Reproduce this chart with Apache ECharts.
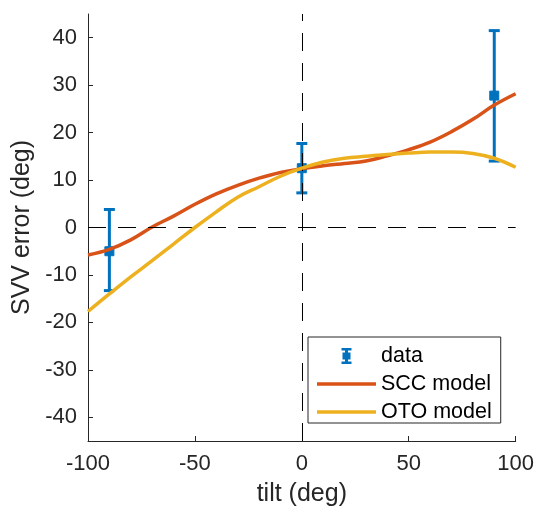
<!DOCTYPE html>
<html>
<head>
<meta charset="utf-8">
<script src="https://cdn.jsdelivr.net/npm/echarts@6/dist/echarts.min.js"></script>
<style>
  html, body { margin: 0; padding: 0; background: #fff; }
  #chart { width: 537px; height: 512px; }
</style>
</head>
<body>
<div id="chart"></div>
<script>
// Measured SVV error (mean with lower / upper error bounds) at each tilt
const tiltData = [-90, 0, 90];
const errMean = [-5.0, 12.5, 27.8];
const errLow = [-13.3, 7.3, 14.0];
const errHigh = [3.8, 17.7, 41.5];

// Model predictions sampled every 10 deg of tilt
const modelTilt = [-100, -90, -80, -70, -60, -50, -40, -30, -20, -10, 0,
                   10, 20, 30, 40, 50, 60, 70, 80, 90, 100];
const sccModel = [-5.8, -4.6, -2.6, 0.1, 2.4, 4.9, 7.1, 8.9, 10.4, 11.6, 12.4,
                  13.0, 13.5, 14.0, 15.1, 16.4, 18.0, 20.2, 22.8, 25.8, 28.2];
const otoModel = [-17.7, -14.0, -10.4, -7.0, -3.5, 0.0, 3.3, 6.4, 8.6, 10.8, 12.5,
                  13.8, 14.6, 15.0, 15.4, 15.7, 15.9, 15.9, 15.6, 14.6, 12.7];

// Axis ticks
const xTicks = [-100, -50, 0, 50, 100];
const yTicks = [-40, -30, -20, -10, 0, 10, 20, 30, 40];

const FONT = 'Liberation Sans, Arial, Helvetica, sans-serif';
const AXIS_COLOR = '#262626';
const BLUE = '#0072BD', ORANGE = '#D95319', YELLOW = '#EDB120';

const chart = echarts.init(document.getElementById('chart'), null, { renderer: 'canvas' });

const barData = tiltData.map((t, i) => [t, errMean[i], errLow[i], errHigh[i]]);

function renderErrorBar(params, api) {
  const x = api.value(0);
  const pMean = api.coord([x, api.value(1)]);
  const pLow = api.coord([x, api.value(2)]);
  const pHigh = api.coord([x, api.value(3)]);
  const capHalf = 5.5;
  const mk = 4.5;
  const style = { stroke: BLUE, lineWidth: 3, fill: null };
  return {
    type: 'group',
    children: [
      { type: 'line', shape: { x1: pLow[0], y1: pLow[1], x2: pHigh[0], y2: pHigh[1] }, style },
      { type: 'line', shape: { x1: pLow[0] - capHalf, y1: pLow[1], x2: pLow[0] + capHalf, y2: pLow[1] }, style },
      { type: 'line', shape: { x1: pHigh[0] - capHalf, y1: pHigh[1], x2: pHigh[0] + capHalf, y2: pHigh[1] }, style },
      { type: 'rect', shape: { x: pMean[0] - mk, y: pMean[1] - mk, width: 2 * mk, height: 2 * mk },
        style: { fill: BLUE, stroke: BLUE, lineWidth: 1 } }
    ]
  };
}

// legend glyphs
const errIcon = 'path://M0,0 H10 V2.6 H6.5 V4.5 H9 V11.5 H6.5 V13.4 H10 V16 H0 V13.4 H3.5 V11.5 H1 V4.5 H3.5 V2.6 H0 Z';
const lineIcon = 'path://M0,0 H59 V3.5 H0 Z';

chart.setOption({
  animation: false,
  backgroundColor: '#ffffff',
  textStyle: { fontFamily: FONT },
  grid: { left: 88, right: 19, top: 14, bottom: 69, containLabel: false },
  legend: {
    orient: 'vertical',
    left: 308,
    top: 337,
    padding: [8, 9, 0, 9],
    itemGap: 6,
    itemWidth: 59,
    itemHeight: 16,
    backgroundColor: '#ffffff',
    borderColor: AXIS_COLOR,
    borderWidth: 1,
    borderRadius: 0,
    textStyle: { fontFamily: FONT, fontSize: 21.5, color: '#000000', lineHeight: 20 },
    data: [
      { name: 'data', icon: errIcon, itemStyle: { color: BLUE } },
      { name: 'SCC model', icon: lineIcon, itemStyle: { color: ORANGE } },
      { name: 'OTO model', icon: lineIcon, itemStyle: { color: YELLOW } }
    ]
  },
  xAxis: {
    type: 'value',
    min: -100,
    max: 100,
    interval: 50,
    name: 'tilt (deg)',
    nameLocation: 'middle',
    nameGap: 41,
    nameTextStyle: { fontFamily: FONT, fontSize: 25, color: AXIS_COLOR },
    axisLine: { show: true, onZero: false, lineStyle: { color: AXIS_COLOR, width: 1 } },
    axisTick: { show: true, inside: true, length: 5, customValues: xTicks, lineStyle: { color: AXIS_COLOR } },
    axisLabel: { margin: 12, fontFamily: FONT, fontSize: 22, color: AXIS_COLOR, customValues: xTicks },
    splitLine: { show: false }
  },
  yAxis: {
    type: 'value',
    min: -45,
    max: 45,
    name: 'SVV error (deg)',
    nameLocation: 'middle',
    nameRotate: 90,
    nameGap: 52,
    nameTextStyle: { fontFamily: FONT, fontSize: 25, color: AXIS_COLOR },
    axisLine: { show: true, onZero: false, lineStyle: { color: AXIS_COLOR, width: 1 } },
    axisTick: { show: true, inside: true, length: 5, customValues: yTicks, lineStyle: { color: AXIS_COLOR } },
    axisLabel: { margin: 11, fontFamily: FONT, fontSize: 22, color: AXIS_COLOR, customValues: yTicks },
    splitLine: { show: false }
  },
  series: [
    {
      name: 'data',
      type: 'custom',
      renderItem: renderErrorBar,
      data: barData,
      encode: { x: 0, y: [1, 2, 3] },
      itemStyle: { color: BLUE },
      z: 2
    },
    {
      // zero reference lines
      name: 'zero',
      type: 'line',
      data: [],
      z: 3,
      markLine: {
        silent: true,
        symbol: ['none', 'none'],
        label: { show: false },
        lineStyle: { color: '#000000', width: 1, type: [18, 12] },
        data: [{ yAxis: 0 }, { xAxis: 0 }]
      }
    },
    {
      name: 'SCC model',
      type: 'line',
      data: modelTilt.map((t, i) => [t, sccModel[i]]),
      smooth: 0.4,
      showSymbol: false,
      symbol: 'none',
      color: ORANGE,
      lineStyle: { color: ORANGE, width: 3.5 },
      z: 4
    },
    {
      name: 'OTO model',
      type: 'line',
      data: modelTilt.map((t, i) => [t, otoModel[i]]),
      smooth: 0.4,
      showSymbol: false,
      symbol: 'none',
      color: YELLOW,
      lineStyle: { color: YELLOW, width: 3.5 },
      z: 5
    }
  ]
});
</script>
</body>
</html>
